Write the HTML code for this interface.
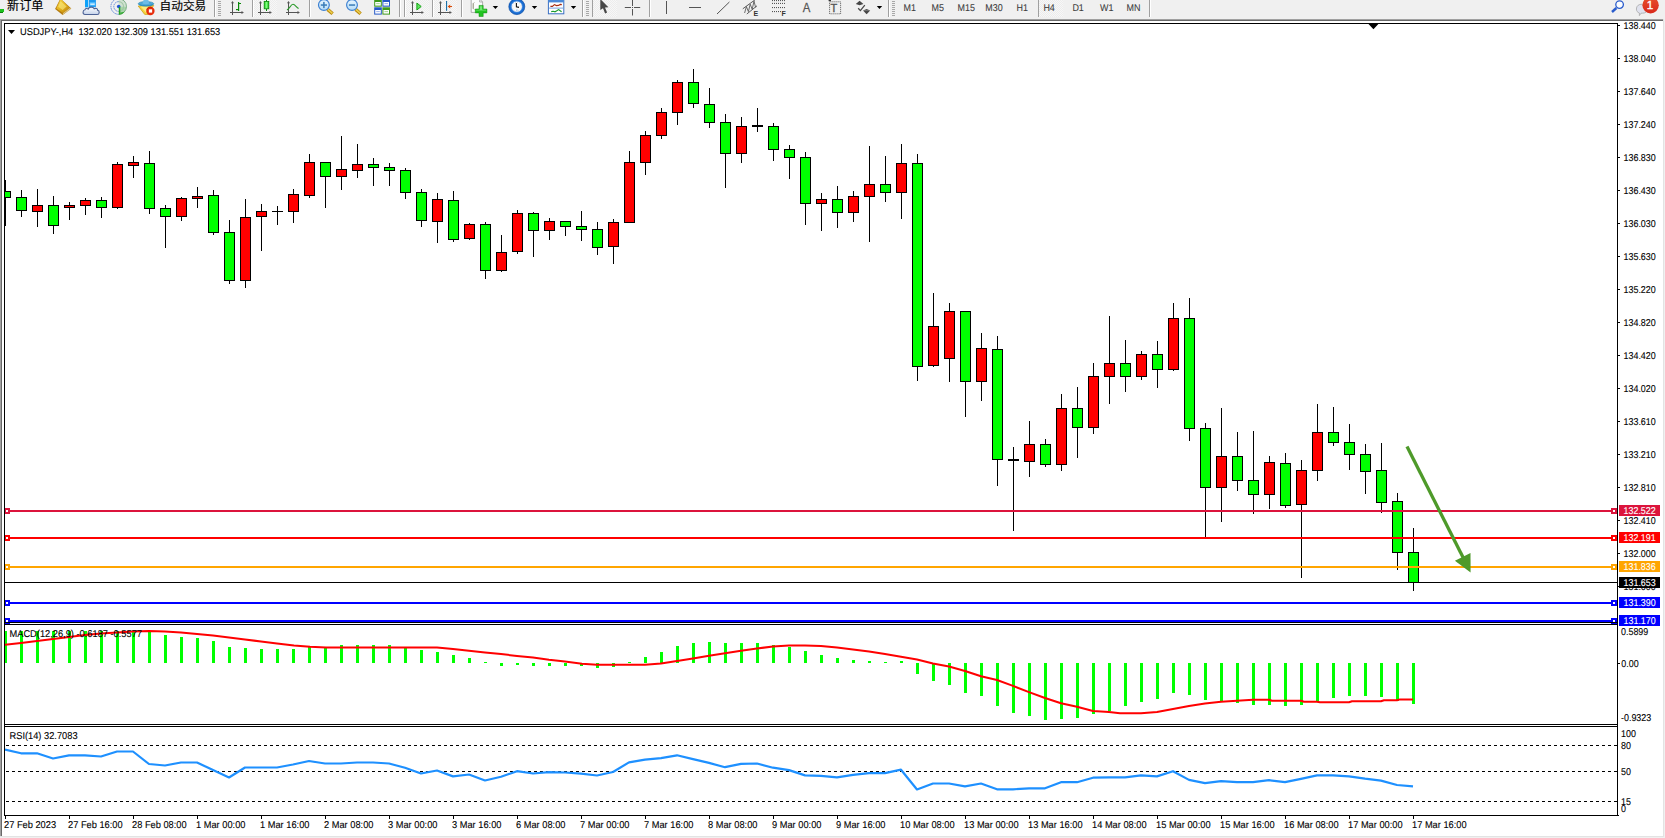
<!DOCTYPE html>
<html><head><meta charset="utf-8"><title>USDJPY-,H4</title>
<style>
html,body{margin:0;padding:0;}
body{width:1665px;height:838px;overflow:hidden;background:#f0f0f0;position:relative;font-family:'Liberation Sans','Noto Sans CJK SC',sans-serif;}
svg text{font-family:'Liberation Sans','Noto Sans CJK SC',sans-serif;}
</style></head><body>
<svg width="1665" height="838" viewBox="0 0 1665 838" shape-rendering="crispEdges" text-rendering="geometricPrecision" font-family="'Liberation Sans','Noto Sans CJK SC',sans-serif" style="position:absolute;left:0;top:0"><defs><clipPath id="mainclip"><rect x="5" y="24" width="1612" height="598"/></clipPath><clipPath id="macdclip"><rect x="5" y="625" width="1612" height="99"/></clipPath><clipPath id="rsiclip"><rect x="5" y="727" width="1612" height="88"/></clipPath></defs><rect x="0" y="18" width="1665" height="1" fill="#f6f6f6"/>
<rect x="0" y="19" width="1664" height="818" fill="#fff"/>
<rect x="0" y="19" width="1664" height="1" fill="#a0a0a0"/>
<rect x="0" y="19" width="1" height="818" fill="#a0a0a0"/>
<rect x="1" y="20" width="1663" height="1" fill="#696969"/>
<rect x="1" y="20" width="1" height="816" fill="#696969"/>
<rect x="1663" y="19" width="1" height="818" fill="#e3e3e3"/>
<rect x="0" y="836" width="1664" height="1" fill="#e3e3e3"/>
<g clip-path="url(#mainclip)"><rect x="5" y="180" width="1" height="46" fill="#000"/><rect x="0" y="191" width="11" height="7" fill="#000"/><rect x="1" y="192" width="9" height="5" fill="#00ff00"/><rect x="21" y="190" width="1" height="27" fill="#000"/><rect x="16" y="197" width="11" height="14" fill="#000"/><rect x="17" y="198" width="9" height="12" fill="#00ff00"/><rect x="37" y="189" width="1" height="38" fill="#000"/><rect x="32" y="205" width="11" height="7" fill="#000"/><rect x="33" y="206" width="9" height="5" fill="#ff0000"/><rect x="53" y="196" width="1" height="38" fill="#000"/><rect x="48" y="205" width="11" height="21" fill="#000"/><rect x="49" y="206" width="9" height="19" fill="#00ff00"/><rect x="69" y="202" width="1" height="18" fill="#000"/><rect x="64" y="205" width="11" height="3" fill="#000"/><rect x="65" y="206" width="9" height="1" fill="#ff0000"/><rect x="85" y="198" width="1" height="17" fill="#000"/><rect x="80" y="200" width="11" height="6" fill="#000"/><rect x="81" y="201" width="9" height="4" fill="#ff0000"/><rect x="101" y="197" width="1" height="21" fill="#000"/><rect x="96" y="200" width="11" height="8" fill="#000"/><rect x="97" y="201" width="9" height="6" fill="#00ff00"/><rect x="117" y="162" width="1" height="47" fill="#000"/><rect x="112" y="164" width="11" height="44" fill="#000"/><rect x="113" y="165" width="9" height="42" fill="#ff0000"/><rect x="133" y="156" width="1" height="22" fill="#000"/><rect x="128" y="162" width="11" height="4" fill="#000"/><rect x="129" y="163" width="9" height="2" fill="#ff0000"/><rect x="149" y="151" width="1" height="63" fill="#000"/><rect x="144" y="163" width="11" height="46" fill="#000"/><rect x="145" y="164" width="9" height="44" fill="#00ff00"/><rect x="165" y="205" width="1" height="43" fill="#000"/><rect x="160" y="208" width="11" height="9" fill="#000"/><rect x="161" y="209" width="9" height="7" fill="#00ff00"/><rect x="181" y="197" width="1" height="24" fill="#000"/><rect x="176" y="198" width="11" height="19" fill="#000"/><rect x="177" y="199" width="9" height="17" fill="#ff0000"/><rect x="197" y="187" width="1" height="21" fill="#000"/><rect x="192" y="196" width="11" height="3" fill="#000"/><rect x="193" y="197" width="9" height="1" fill="#ff0000"/><rect x="213" y="190" width="1" height="45" fill="#000"/><rect x="208" y="195" width="11" height="38" fill="#000"/><rect x="209" y="196" width="9" height="36" fill="#00ff00"/><rect x="229" y="220" width="1" height="64" fill="#000"/><rect x="224" y="232" width="11" height="49" fill="#000"/><rect x="225" y="233" width="9" height="47" fill="#00ff00"/><rect x="245" y="199" width="1" height="89" fill="#000"/><rect x="240" y="217" width="11" height="64" fill="#000"/><rect x="241" y="218" width="9" height="62" fill="#ff0000"/><rect x="261" y="204" width="1" height="47" fill="#000"/><rect x="256" y="211" width="11" height="6" fill="#000"/><rect x="257" y="212" width="9" height="4" fill="#ff0000"/><rect x="277" y="206" width="1" height="19" fill="#000"/><rect x="272" y="211" width="11" height="1" fill="#000"/><rect x="293" y="189" width="1" height="34" fill="#000"/><rect x="288" y="194" width="11" height="18" fill="#000"/><rect x="289" y="195" width="9" height="16" fill="#ff0000"/><rect x="309" y="154" width="1" height="44" fill="#000"/><rect x="304" y="162" width="11" height="34" fill="#000"/><rect x="305" y="163" width="9" height="32" fill="#ff0000"/><rect x="325" y="162" width="1" height="46" fill="#000"/><rect x="320" y="162" width="11" height="15" fill="#000"/><rect x="321" y="163" width="9" height="13" fill="#00ff00"/><rect x="341" y="136" width="1" height="54" fill="#000"/><rect x="336" y="169" width="11" height="8" fill="#000"/><rect x="337" y="170" width="9" height="6" fill="#ff0000"/><rect x="357" y="144" width="1" height="34" fill="#000"/><rect x="352" y="164" width="11" height="7" fill="#000"/><rect x="353" y="165" width="9" height="5" fill="#ff0000"/><rect x="373" y="158" width="1" height="28" fill="#000"/><rect x="368" y="164" width="11" height="4" fill="#000"/><rect x="369" y="165" width="9" height="2" fill="#00ff00"/><rect x="389" y="163" width="1" height="23" fill="#000"/><rect x="384" y="167" width="11" height="4" fill="#000"/><rect x="385" y="168" width="9" height="2" fill="#00ff00"/><rect x="405" y="168" width="1" height="31" fill="#000"/><rect x="400" y="170" width="11" height="23" fill="#000"/><rect x="401" y="171" width="9" height="21" fill="#00ff00"/><rect x="421" y="189" width="1" height="38" fill="#000"/><rect x="416" y="192" width="11" height="29" fill="#000"/><rect x="417" y="193" width="9" height="27" fill="#00ff00"/><rect x="437" y="193" width="1" height="50" fill="#000"/><rect x="432" y="199" width="11" height="23" fill="#000"/><rect x="433" y="200" width="9" height="21" fill="#ff0000"/><rect x="453" y="191" width="1" height="51" fill="#000"/><rect x="448" y="200" width="11" height="40" fill="#000"/><rect x="449" y="201" width="9" height="38" fill="#00ff00"/><rect x="469" y="223" width="1" height="17" fill="#000"/><rect x="464" y="224" width="11" height="15" fill="#000"/><rect x="465" y="225" width="9" height="13" fill="#ff0000"/><rect x="485" y="222" width="1" height="57" fill="#000"/><rect x="480" y="224" width="11" height="47" fill="#000"/><rect x="481" y="225" width="9" height="45" fill="#00ff00"/><rect x="501" y="235" width="1" height="37" fill="#000"/><rect x="496" y="252" width="11" height="19" fill="#000"/><rect x="497" y="253" width="9" height="17" fill="#ff0000"/><rect x="517" y="210" width="1" height="44" fill="#000"/><rect x="512" y="213" width="11" height="39" fill="#000"/><rect x="513" y="214" width="9" height="37" fill="#ff0000"/><rect x="533" y="212" width="1" height="45" fill="#000"/><rect x="528" y="213" width="11" height="18" fill="#000"/><rect x="529" y="214" width="9" height="16" fill="#00ff00"/><rect x="549" y="218" width="1" height="22" fill="#000"/><rect x="544" y="221" width="11" height="10" fill="#000"/><rect x="545" y="222" width="9" height="8" fill="#ff0000"/><rect x="565" y="221" width="1" height="15" fill="#000"/><rect x="560" y="221" width="11" height="6" fill="#000"/><rect x="561" y="222" width="9" height="4" fill="#00ff00"/><rect x="581" y="211" width="1" height="30" fill="#000"/><rect x="576" y="226" width="11" height="4" fill="#000"/><rect x="577" y="227" width="9" height="2" fill="#00ff00"/><rect x="597" y="222" width="1" height="33" fill="#000"/><rect x="592" y="229" width="11" height="19" fill="#000"/><rect x="593" y="230" width="9" height="17" fill="#00ff00"/><rect x="613" y="219" width="1" height="45" fill="#000"/><rect x="608" y="222" width="11" height="25" fill="#000"/><rect x="609" y="223" width="9" height="23" fill="#ff0000"/><rect x="629" y="151" width="1" height="71" fill="#000"/><rect x="624" y="162" width="11" height="61" fill="#000"/><rect x="625" y="163" width="9" height="59" fill="#ff0000"/><rect x="645" y="131" width="1" height="44" fill="#000"/><rect x="640" y="135" width="11" height="28" fill="#000"/><rect x="641" y="136" width="9" height="26" fill="#ff0000"/><rect x="661" y="108" width="1" height="31" fill="#000"/><rect x="656" y="112" width="11" height="24" fill="#000"/><rect x="657" y="113" width="9" height="22" fill="#ff0000"/><rect x="677" y="80" width="1" height="45" fill="#000"/><rect x="672" y="82" width="11" height="31" fill="#000"/><rect x="673" y="83" width="9" height="29" fill="#ff0000"/><rect x="693" y="69" width="1" height="39" fill="#000"/><rect x="688" y="82" width="11" height="22" fill="#000"/><rect x="689" y="83" width="9" height="20" fill="#00ff00"/><rect x="709" y="88" width="1" height="40" fill="#000"/><rect x="704" y="104" width="11" height="19" fill="#000"/><rect x="705" y="105" width="9" height="17" fill="#00ff00"/><rect x="725" y="114" width="1" height="74" fill="#000"/><rect x="720" y="122" width="11" height="32" fill="#000"/><rect x="721" y="123" width="9" height="30" fill="#00ff00"/><rect x="741" y="117" width="1" height="46" fill="#000"/><rect x="736" y="126" width="11" height="28" fill="#000"/><rect x="737" y="127" width="9" height="26" fill="#ff0000"/><rect x="757" y="108" width="1" height="24" fill="#000"/><rect x="752" y="125" width="11" height="2" fill="#000"/><rect x="773" y="123" width="1" height="38" fill="#000"/><rect x="768" y="126" width="11" height="24" fill="#000"/><rect x="769" y="127" width="9" height="22" fill="#00ff00"/><rect x="789" y="145" width="1" height="34" fill="#000"/><rect x="784" y="149" width="11" height="9" fill="#000"/><rect x="785" y="150" width="9" height="7" fill="#00ff00"/><rect x="805" y="152" width="1" height="73" fill="#000"/><rect x="800" y="157" width="11" height="47" fill="#000"/><rect x="801" y="158" width="9" height="45" fill="#00ff00"/><rect x="821" y="193" width="1" height="38" fill="#000"/><rect x="816" y="199" width="11" height="5" fill="#000"/><rect x="817" y="200" width="9" height="3" fill="#ff0000"/><rect x="837" y="186" width="1" height="42" fill="#000"/><rect x="832" y="199" width="11" height="14" fill="#000"/><rect x="833" y="200" width="9" height="12" fill="#00ff00"/><rect x="853" y="191" width="1" height="31" fill="#000"/><rect x="848" y="196" width="11" height="17" fill="#000"/><rect x="849" y="197" width="9" height="15" fill="#ff0000"/><rect x="869" y="146" width="1" height="96" fill="#000"/><rect x="864" y="184" width="11" height="13" fill="#000"/><rect x="865" y="185" width="9" height="11" fill="#ff0000"/><rect x="885" y="156" width="1" height="46" fill="#000"/><rect x="880" y="184" width="11" height="9" fill="#000"/><rect x="881" y="185" width="9" height="7" fill="#00ff00"/><rect x="901" y="144" width="1" height="75" fill="#000"/><rect x="896" y="163" width="11" height="30" fill="#000"/><rect x="897" y="164" width="9" height="28" fill="#ff0000"/><rect x="917" y="154" width="1" height="227" fill="#000"/><rect x="912" y="163" width="11" height="204" fill="#000"/><rect x="913" y="164" width="9" height="202" fill="#00ff00"/><rect x="933" y="293" width="1" height="74" fill="#000"/><rect x="928" y="326" width="11" height="40" fill="#000"/><rect x="929" y="327" width="9" height="38" fill="#ff0000"/><rect x="949" y="303" width="1" height="79" fill="#000"/><rect x="944" y="311" width="11" height="48" fill="#000"/><rect x="945" y="312" width="9" height="46" fill="#ff0000"/><rect x="965" y="311" width="1" height="106" fill="#000"/><rect x="960" y="311" width="11" height="71" fill="#000"/><rect x="961" y="312" width="9" height="69" fill="#00ff00"/><rect x="981" y="333" width="1" height="68" fill="#000"/><rect x="976" y="348" width="11" height="34" fill="#000"/><rect x="977" y="349" width="9" height="32" fill="#ff0000"/><rect x="997" y="336" width="1" height="150" fill="#000"/><rect x="992" y="349" width="11" height="111" fill="#000"/><rect x="993" y="350" width="9" height="109" fill="#00ff00"/><rect x="1013" y="447" width="1" height="84" fill="#000"/><rect x="1008" y="459" width="11" height="2" fill="#000"/><rect x="1029" y="421" width="1" height="56" fill="#000"/><rect x="1024" y="444" width="11" height="18" fill="#000"/><rect x="1025" y="445" width="9" height="16" fill="#ff0000"/><rect x="1045" y="439" width="1" height="28" fill="#000"/><rect x="1040" y="444" width="11" height="21" fill="#000"/><rect x="1041" y="445" width="9" height="19" fill="#00ff00"/><rect x="1061" y="394" width="1" height="77" fill="#000"/><rect x="1056" y="408" width="11" height="57" fill="#000"/><rect x="1057" y="409" width="9" height="55" fill="#ff0000"/><rect x="1077" y="387" width="1" height="71" fill="#000"/><rect x="1072" y="408" width="11" height="20" fill="#000"/><rect x="1073" y="409" width="9" height="18" fill="#00ff00"/><rect x="1093" y="363" width="1" height="71" fill="#000"/><rect x="1088" y="376" width="11" height="52" fill="#000"/><rect x="1089" y="377" width="9" height="50" fill="#ff0000"/><rect x="1109" y="316" width="1" height="88" fill="#000"/><rect x="1104" y="363" width="11" height="14" fill="#000"/><rect x="1105" y="364" width="9" height="12" fill="#ff0000"/><rect x="1125" y="340" width="1" height="52" fill="#000"/><rect x="1120" y="363" width="11" height="14" fill="#000"/><rect x="1121" y="364" width="9" height="12" fill="#00ff00"/><rect x="1141" y="351" width="1" height="29" fill="#000"/><rect x="1136" y="354" width="11" height="23" fill="#000"/><rect x="1137" y="355" width="9" height="21" fill="#ff0000"/><rect x="1157" y="341" width="1" height="47" fill="#000"/><rect x="1152" y="354" width="11" height="16" fill="#000"/><rect x="1153" y="355" width="9" height="14" fill="#00ff00"/><rect x="1173" y="303" width="1" height="68" fill="#000"/><rect x="1168" y="318" width="11" height="52" fill="#000"/><rect x="1169" y="319" width="9" height="50" fill="#ff0000"/><rect x="1189" y="298" width="1" height="143" fill="#000"/><rect x="1184" y="318" width="11" height="111" fill="#000"/><rect x="1185" y="319" width="9" height="109" fill="#00ff00"/><rect x="1205" y="423" width="1" height="114" fill="#000"/><rect x="1200" y="428" width="11" height="60" fill="#000"/><rect x="1201" y="429" width="9" height="58" fill="#00ff00"/><rect x="1221" y="408" width="1" height="114" fill="#000"/><rect x="1216" y="456" width="11" height="32" fill="#000"/><rect x="1217" y="457" width="9" height="30" fill="#ff0000"/><rect x="1237" y="432" width="1" height="59" fill="#000"/><rect x="1232" y="456" width="11" height="25" fill="#000"/><rect x="1233" y="457" width="9" height="23" fill="#00ff00"/><rect x="1253" y="431" width="1" height="83" fill="#000"/><rect x="1248" y="480" width="11" height="15" fill="#000"/><rect x="1249" y="481" width="9" height="13" fill="#00ff00"/><rect x="1269" y="456" width="1" height="53" fill="#000"/><rect x="1264" y="462" width="11" height="33" fill="#000"/><rect x="1265" y="463" width="9" height="31" fill="#ff0000"/><rect x="1285" y="453" width="1" height="55" fill="#000"/><rect x="1280" y="463" width="11" height="43" fill="#000"/><rect x="1281" y="464" width="9" height="41" fill="#00ff00"/><rect x="1301" y="460" width="1" height="118" fill="#000"/><rect x="1296" y="470" width="11" height="35" fill="#000"/><rect x="1297" y="471" width="9" height="33" fill="#ff0000"/><rect x="1317" y="404" width="1" height="77" fill="#000"/><rect x="1312" y="432" width="11" height="39" fill="#000"/><rect x="1313" y="433" width="9" height="37" fill="#ff0000"/><rect x="1333" y="407" width="1" height="39" fill="#000"/><rect x="1328" y="432" width="11" height="11" fill="#000"/><rect x="1329" y="433" width="9" height="9" fill="#00ff00"/><rect x="1349" y="424" width="1" height="46" fill="#000"/><rect x="1344" y="442" width="11" height="13" fill="#000"/><rect x="1345" y="443" width="9" height="11" fill="#00ff00"/><rect x="1365" y="444" width="1" height="50" fill="#000"/><rect x="1360" y="454" width="11" height="18" fill="#000"/><rect x="1361" y="455" width="9" height="16" fill="#00ff00"/><rect x="1381" y="443" width="1" height="70" fill="#000"/><rect x="1376" y="470" width="11" height="33" fill="#000"/><rect x="1377" y="471" width="9" height="31" fill="#00ff00"/><rect x="1397" y="493" width="1" height="77" fill="#000"/><rect x="1392" y="501" width="11" height="52" fill="#000"/><rect x="1393" y="502" width="9" height="50" fill="#00ff00"/><rect x="1413" y="528" width="1" height="63" fill="#000"/><rect x="1408" y="552" width="11" height="31" fill="#000"/><rect x="1409" y="553" width="9" height="29" fill="#00ff00"/></g>
<rect x="5" y="510" width="1612" height="2" fill="#dc143c"/>
<rect x="4" y="508" width="6" height="6" fill="#dc143c"/>
<rect x="6" y="510" width="2" height="2" fill="#fff"/>
<rect x="1611" y="508" width="6" height="6" fill="#dc143c"/>
<rect x="1613" y="510" width="2" height="2" fill="#fff"/>
<rect x="5" y="537" width="1612" height="2" fill="#ff0000"/>
<rect x="4" y="535" width="6" height="6" fill="#ff0000"/>
<rect x="6" y="537" width="2" height="2" fill="#fff"/>
<rect x="1611" y="535" width="6" height="6" fill="#ff0000"/>
<rect x="1613" y="537" width="2" height="2" fill="#fff"/>
<rect x="5" y="566" width="1612" height="2" fill="#ffa500"/>
<rect x="4" y="564" width="6" height="6" fill="#ffa500"/>
<rect x="6" y="566" width="2" height="2" fill="#fff"/>
<rect x="1611" y="564" width="6" height="6" fill="#ffa500"/>
<rect x="1613" y="566" width="2" height="2" fill="#fff"/>
<rect x="5" y="602" width="1612" height="2" fill="#0000ff"/>
<rect x="4" y="600" width="6" height="6" fill="#0000ff"/>
<rect x="6" y="602" width="2" height="2" fill="#fff"/>
<rect x="1611" y="600" width="6" height="6" fill="#0000ff"/>
<rect x="1613" y="602" width="2" height="2" fill="#fff"/>
<rect x="5" y="620" width="1612" height="2" fill="#0000ff"/>
<rect x="4" y="618" width="6" height="6" fill="#0000ff"/>
<rect x="6" y="620" width="2" height="2" fill="#fff"/>
<rect x="1611" y="618" width="6" height="6" fill="#0000ff"/>
<rect x="1613" y="620" width="2" height="2" fill="#fff"/>
<rect x="5" y="582" width="1612" height="1" fill="#000"/>
<g shape-rendering="geometricPrecision"><line x1="1407.0" y1="446.5" x2="1463.6" y2="558.6" stroke="#4e9a2a" stroke-width="3.3"/><polygon points="1470.6,572.4 1454.9,560.7 1470.5,552.9" fill="#4e9a2a"/></g>
<g clip-path="url(#macdclip)"><rect x="4" y="631" width="3" height="32" fill="#00ff00"/><rect x="20" y="631" width="3" height="32" fill="#00ff00"/><rect x="36" y="631" width="3" height="32" fill="#00ff00"/><rect x="52" y="631" width="3" height="32" fill="#00ff00"/><rect x="68" y="631" width="3" height="32" fill="#00ff00"/><rect x="84" y="631" width="3" height="32" fill="#00ff00"/><rect x="100" y="631" width="3" height="32" fill="#00ff00"/><rect x="116" y="631" width="3" height="32" fill="#00ff00"/><rect x="132" y="631" width="3" height="32" fill="#00ff00"/><rect x="148" y="632" width="3" height="31" fill="#00ff00"/><rect x="164" y="635" width="3" height="28" fill="#00ff00"/><rect x="180" y="637" width="3" height="26" fill="#00ff00"/><rect x="196" y="638" width="3" height="25" fill="#00ff00"/><rect x="212" y="641" width="3" height="22" fill="#00ff00"/><rect x="228" y="647" width="3" height="16" fill="#00ff00"/><rect x="244" y="648" width="3" height="15" fill="#00ff00"/><rect x="260" y="649" width="3" height="14" fill="#00ff00"/><rect x="276" y="649" width="3" height="14" fill="#00ff00"/><rect x="292" y="649" width="3" height="14" fill="#00ff00"/><rect x="308" y="647" width="3" height="16" fill="#00ff00"/><rect x="324" y="647" width="3" height="16" fill="#00ff00"/><rect x="340" y="645" width="3" height="18" fill="#00ff00"/><rect x="356" y="645" width="3" height="18" fill="#00ff00"/><rect x="372" y="645" width="3" height="18" fill="#00ff00"/><rect x="388" y="645" width="3" height="18" fill="#00ff00"/><rect x="404" y="647" width="3" height="16" fill="#00ff00"/><rect x="420" y="650" width="3" height="13" fill="#00ff00"/><rect x="436" y="652" width="3" height="11" fill="#00ff00"/><rect x="452" y="655" width="3" height="8" fill="#00ff00"/><rect x="468" y="658" width="3" height="5" fill="#00ff00"/><rect x="484" y="662" width="3" height="1" fill="#00ff00"/><rect x="500" y="663" width="3" height="3" fill="#00ff00"/><rect x="516" y="663" width="3" height="2" fill="#00ff00"/><rect x="532" y="663" width="3" height="3" fill="#00ff00"/><rect x="548" y="663" width="3" height="3" fill="#00ff00"/><rect x="564" y="663" width="3" height="3" fill="#00ff00"/><rect x="580" y="663" width="3" height="3" fill="#00ff00"/><rect x="596" y="663" width="3" height="5" fill="#00ff00"/><rect x="612" y="663" width="3" height="4" fill="#00ff00"/><rect x="628" y="662" width="3" height="1" fill="#00ff00"/><rect x="644" y="657" width="3" height="6" fill="#00ff00"/><rect x="660" y="652" width="3" height="11" fill="#00ff00"/><rect x="676" y="646" width="3" height="17" fill="#00ff00"/><rect x="692" y="643" width="3" height="20" fill="#00ff00"/><rect x="708" y="642" width="3" height="21" fill="#00ff00"/><rect x="724" y="643" width="3" height="20" fill="#00ff00"/><rect x="740" y="643" width="3" height="20" fill="#00ff00"/><rect x="756" y="643" width="3" height="20" fill="#00ff00"/><rect x="772" y="645" width="3" height="18" fill="#00ff00"/><rect x="788" y="647" width="3" height="16" fill="#00ff00"/><rect x="804" y="651" width="3" height="12" fill="#00ff00"/><rect x="820" y="655" width="3" height="8" fill="#00ff00"/><rect x="836" y="658" width="3" height="5" fill="#00ff00"/><rect x="852" y="660" width="3" height="3" fill="#00ff00"/><rect x="868" y="661" width="3" height="2" fill="#00ff00"/><rect x="884" y="662" width="3" height="1" fill="#00ff00"/><rect x="900" y="661" width="3" height="2" fill="#00ff00"/><rect x="916" y="663" width="3" height="11" fill="#00ff00"/><rect x="932" y="663" width="3" height="18" fill="#00ff00"/><rect x="948" y="663" width="3" height="22" fill="#00ff00"/><rect x="964" y="663" width="3" height="30" fill="#00ff00"/><rect x="980" y="663" width="3" height="33" fill="#00ff00"/><rect x="996" y="663" width="3" height="43" fill="#00ff00"/><rect x="1012" y="663" width="3" height="50" fill="#00ff00"/><rect x="1028" y="663" width="3" height="53" fill="#00ff00"/><rect x="1044" y="663" width="3" height="57" fill="#00ff00"/><rect x="1060" y="663" width="3" height="56" fill="#00ff00"/><rect x="1076" y="663" width="3" height="55" fill="#00ff00"/><rect x="1092" y="663" width="3" height="51" fill="#00ff00"/><rect x="1108" y="663" width="3" height="48" fill="#00ff00"/><rect x="1124" y="663" width="3" height="43" fill="#00ff00"/><rect x="1140" y="663" width="3" height="39" fill="#00ff00"/><rect x="1156" y="663" width="3" height="36" fill="#00ff00"/><rect x="1172" y="663" width="3" height="30" fill="#00ff00"/><rect x="1188" y="663" width="3" height="32" fill="#00ff00"/><rect x="1204" y="663" width="3" height="37" fill="#00ff00"/><rect x="1220" y="663" width="3" height="38" fill="#00ff00"/><rect x="1236" y="663" width="3" height="40" fill="#00ff00"/><rect x="1252" y="663" width="3" height="42" fill="#00ff00"/><rect x="1268" y="663" width="3" height="42" fill="#00ff00"/><rect x="1284" y="663" width="3" height="43" fill="#00ff00"/><rect x="1300" y="663" width="3" height="42" fill="#00ff00"/><rect x="1316" y="663" width="3" height="38" fill="#00ff00"/><rect x="1332" y="663" width="3" height="35" fill="#00ff00"/><rect x="1348" y="663" width="3" height="33" fill="#00ff00"/><rect x="1364" y="663" width="3" height="33" fill="#00ff00"/><rect x="1380" y="663" width="3" height="34" fill="#00ff00"/><rect x="1396" y="663" width="3" height="38" fill="#00ff00"/><rect x="1412" y="663" width="3" height="41" fill="#00ff00"/>
<polyline points="5,644.7 21,643 37,641 53,639 69,637 85,635 101,633.5 117,632.5 133,631.5 149,631 165,631.5 181,632.5 197,634 213,635.5 229,637.5 245,639.5 261,641.5 277,643.5 294,645.5 310,646.7 326,647.5 437,647.5 453,649.1 469,650.8 485,652.5 501,654.1 517,655.9 533,657.6 549,659.8 565,661.6 582,663.7 597,664.7 645,664.7 661,663.5 677,661 693,658.5 709,655.8 725,653.2 741,650.8 757,648.5 773,646.5 789,645.5 805,645.5 821,646 837,647.5 853,649.5 869,651.5 885,654 901,656.7 917,659.5 933,663.5 949,666.5 965,671 981,676.3 997,680 1013,685.9 1029,692.1 1045,698 1061,703.2 1077,706.7 1093,711 1109,712 1120,713.2 1141,713.2 1157,712.1 1173,709 1189,706.1 1205,703.6 1221,701.7 1237,700.7 1253,699.8 1269,699.8 1272,700.7 1301,700.7 1304,701.7 1317,701.7 1320,702.3 1349,702.3 1352,701.3 1381,701.3 1384,700.3 1397,700.3 1400,699.4 1413,699.4" fill="none" stroke="#ff0000" stroke-width="2" shape-rendering="geometricPrecision" stroke-linejoin="round"/></g>
<line x1="6" y1="745.5" x2="1617" y2="745.5" stroke="#000" stroke-width="1" stroke-dasharray="3 3"/>
<line x1="6" y1="771.5" x2="1617" y2="771.5" stroke="#000" stroke-width="1" stroke-dasharray="3 3"/>
<line x1="6" y1="801.5" x2="1617" y2="801.5" stroke="#000" stroke-width="1" stroke-dasharray="3 3"/>
<g clip-path="url(#rsiclip)"><polyline points="5,749.5 21,753.3 37,753.3 53,758.5 69,755.3 85,755.3 101,756.5 117,751.5 133,751.5 149,764 165,765.5 181,762.5 197,762.5 213,770 229,777.5 245,767.5 261,767.5 277,767.5 293,764.5 309,761 325,763.5 341,763.5 357,762.5 373,762.5 389,763.5 405,767.7 421,773.5 437,770.5 453,776.4 469,774.5 485,780.5 501,776.8 517,771.2 533,773.5 549,772.2 565,772.5 581,773.7 597,775.5 613,772 629,762.4 645,759.7 661,758.1 677,755.3 693,759.1 709,762.9 725,767.2 741,763.9 757,763.5 773,767.7 789,770.1 805,775.4 821,775.8 837,777.4 853,774.9 869,773.1 885,773.1 901,769.7 917,789.5 933,783.5 949,783.5 965,786.4 981,783.5 997,789.3 1013,789.3 1029,788.3 1045,788.3 1061,782.2 1077,782.2 1093,777.7 1109,777.4 1125,777.4 1141,775.4 1157,776.4 1173,771.2 1189,779.9 1205,783.1 1221,781.2 1237,782.2 1253,782.2 1269,780.2 1285,782.2 1301,778.9 1317,775.4 1333,775.4 1349,776.4 1365,778.7 1381,780.6 1397,785 1413,786.4" fill="none" stroke="#1e90ff" stroke-width="2.2" shape-rendering="geometricPrecision" stroke-linejoin="round"/></g>
<rect x="4" y="23" width="1614" height="1" fill="#000"/>
<rect x="4" y="622" width="1614" height="1" fill="#000"/>
<rect x="4" y="624" width="1614" height="1" fill="#000"/>
<rect x="4" y="724" width="1614" height="1" fill="#000"/>
<rect x="4" y="726" width="1614" height="1" fill="#000"/>
<rect x="4" y="815" width="1615" height="1" fill="#000"/>
<rect x="4" y="23" width="1" height="793" fill="#000"/>
<rect x="1617" y="23" width="1" height="793" fill="#000"/>
<rect x="1618" y="25" width="2" height="1" fill="#000"/>
<text transform="translate(1623.5,28.5) scale(0.903,1)" fill="#000" stroke="#000" stroke-width="0.1" font-size="9.9" >138.440</text>
<rect x="1618" y="58" width="2" height="1" fill="#000"/>
<text transform="translate(1623.5,61.5) scale(0.903,1)" fill="#000" stroke="#000" stroke-width="0.1" font-size="9.9" >138.040</text>
<rect x="1618" y="91" width="2" height="1" fill="#000"/>
<text transform="translate(1623.5,94.5) scale(0.903,1)" fill="#000" stroke="#000" stroke-width="0.1" font-size="9.9" >137.640</text>
<rect x="1618" y="124" width="2" height="1" fill="#000"/>
<text transform="translate(1623.5,127.5) scale(0.903,1)" fill="#000" stroke="#000" stroke-width="0.1" font-size="9.9" >137.240</text>
<rect x="1618" y="157" width="2" height="1" fill="#000"/>
<text transform="translate(1623.5,160.5) scale(0.903,1)" fill="#000" stroke="#000" stroke-width="0.1" font-size="9.9" >136.830</text>
<rect x="1618" y="190" width="2" height="1" fill="#000"/>
<text transform="translate(1623.5,193.5) scale(0.903,1)" fill="#000" stroke="#000" stroke-width="0.1" font-size="9.9" >136.430</text>
<rect x="1618" y="223" width="2" height="1" fill="#000"/>
<text transform="translate(1623.5,226.5) scale(0.903,1)" fill="#000" stroke="#000" stroke-width="0.1" font-size="9.9" >136.030</text>
<rect x="1618" y="256" width="2" height="1" fill="#000"/>
<text transform="translate(1623.5,259.5) scale(0.903,1)" fill="#000" stroke="#000" stroke-width="0.1" font-size="9.9" >135.630</text>
<rect x="1618" y="289" width="2" height="1" fill="#000"/>
<text transform="translate(1623.5,292.5) scale(0.903,1)" fill="#000" stroke="#000" stroke-width="0.1" font-size="9.9" >135.220</text>
<rect x="1618" y="322" width="2" height="1" fill="#000"/>
<text transform="translate(1623.5,325.5) scale(0.903,1)" fill="#000" stroke="#000" stroke-width="0.1" font-size="9.9" >134.820</text>
<rect x="1618" y="355" width="2" height="1" fill="#000"/>
<text transform="translate(1623.5,358.5) scale(0.903,1)" fill="#000" stroke="#000" stroke-width="0.1" font-size="9.9" >134.420</text>
<rect x="1618" y="388" width="2" height="1" fill="#000"/>
<text transform="translate(1623.5,391.5) scale(0.903,1)" fill="#000" stroke="#000" stroke-width="0.1" font-size="9.9" >134.020</text>
<rect x="1618" y="421" width="2" height="1" fill="#000"/>
<text transform="translate(1623.5,424.5) scale(0.903,1)" fill="#000" stroke="#000" stroke-width="0.1" font-size="9.9" >133.610</text>
<rect x="1618" y="454" width="2" height="1" fill="#000"/>
<text transform="translate(1623.5,457.5) scale(0.903,1)" fill="#000" stroke="#000" stroke-width="0.1" font-size="9.9" >133.210</text>
<rect x="1618" y="487" width="2" height="1" fill="#000"/>
<text transform="translate(1623.5,490.5) scale(0.903,1)" fill="#000" stroke="#000" stroke-width="0.1" font-size="9.9" >132.810</text>
<rect x="1618" y="520" width="2" height="1" fill="#000"/>
<text transform="translate(1623.5,523.5) scale(0.903,1)" fill="#000" stroke="#000" stroke-width="0.1" font-size="9.9" >132.410</text>
<rect x="1618" y="553" width="2" height="1" fill="#000"/>
<text transform="translate(1623.5,556.5) scale(0.903,1)" fill="#000" stroke="#000" stroke-width="0.1" font-size="9.9" >132.000</text>
<rect x="1618" y="586" width="2" height="1" fill="#000"/>
<text transform="translate(1623.5,589.5) scale(0.903,1)" fill="#000" stroke="#000" stroke-width="0.1" font-size="9.9" >131.600</text>
<rect x="1619" y="505" width="41" height="11" fill="#dc143c"/>
<text transform="translate(1623.5,514) scale(0.903,1)" fill="#fff" stroke="#fff" stroke-width="0.1" font-size="9.9" >132.522</text>
<rect x="1619" y="532" width="41" height="11" fill="#ff0000"/>
<text transform="translate(1623.5,541) scale(0.903,1)" fill="#fff" stroke="#fff" stroke-width="0.1" font-size="9.9" >132.191</text>
<rect x="1619" y="561" width="41" height="11" fill="#ffa500"/>
<text transform="translate(1623.5,570) scale(0.903,1)" fill="#fff" stroke="#fff" stroke-width="0.1" font-size="9.9" >131.836</text>
<rect x="1619" y="597" width="41" height="11" fill="#0000ff"/>
<text transform="translate(1623.5,606) scale(0.903,1)" fill="#fff" stroke="#fff" stroke-width="0.1" font-size="9.9" >131.390</text>
<rect x="1619" y="615" width="41" height="11" fill="#0000ff"/>
<text transform="translate(1623.5,624) scale(0.903,1)" fill="#fff" stroke="#fff" stroke-width="0.1" font-size="9.9" >131.170</text>
<rect x="1619" y="577" width="41" height="11" fill="#000"/>
<text transform="translate(1623.5,586) scale(0.903,1)" fill="#fff" stroke="#fff" stroke-width="0.1" font-size="9.9" >131.653</text>
<text transform="translate(1621,635.3) scale(0.903,1)" fill="#000" stroke="#000" stroke-width="0.1" font-size="9.9" >0.5899</text>
<rect x="1618" y="663" width="2" height="1" fill="#000"/>
<text transform="translate(1621.3,666.8) scale(0.903,1)" fill="#000" stroke="#000" stroke-width="0.1" font-size="9.9" >0.00</text>
<text transform="translate(1621,720.8) scale(0.903,1)" fill="#000" stroke="#000" stroke-width="0.1" font-size="9.9" >-0.9323</text>
<text transform="translate(1621,737) scale(0.903,1)" fill="#000" stroke="#000" stroke-width="0.1" font-size="9.9" >100</text>
<text transform="translate(1621,749) scale(0.903,1)" fill="#000" stroke="#000" stroke-width="0.1" font-size="9.9" >80</text>
<text transform="translate(1621,775) scale(0.903,1)" fill="#000" stroke="#000" stroke-width="0.1" font-size="9.9" >50</text>
<text transform="translate(1621,805) scale(0.903,1)" fill="#000" stroke="#000" stroke-width="0.1" font-size="9.9" >15</text>
<text transform="translate(1621,812.2) scale(0.903,1)" fill="#000" stroke="#000" stroke-width="0.1" font-size="9.9" >0</text>
<rect x="5" y="816" width="1" height="3" fill="#000"/>
<text transform="translate(4,828) scale(0.939,1)" fill="#000" stroke="#000" stroke-width="0.1" font-size="9.9" >27 Feb 2023</text>
<rect x="69" y="816" width="1" height="3" fill="#000"/>
<text transform="translate(68,828) scale(0.939,1)" fill="#000" stroke="#000" stroke-width="0.1" font-size="9.9" >27 Feb 16:00</text>
<rect x="133" y="816" width="1" height="3" fill="#000"/>
<text transform="translate(132,828) scale(0.939,1)" fill="#000" stroke="#000" stroke-width="0.1" font-size="9.9" >28 Feb 08:00</text>
<rect x="197" y="816" width="1" height="3" fill="#000"/>
<text transform="translate(196,828) scale(0.939,1)" fill="#000" stroke="#000" stroke-width="0.1" font-size="9.9" >1 Mar 00:00</text>
<rect x="261" y="816" width="1" height="3" fill="#000"/>
<text transform="translate(260,828) scale(0.939,1)" fill="#000" stroke="#000" stroke-width="0.1" font-size="9.9" >1 Mar 16:00</text>
<rect x="325" y="816" width="1" height="3" fill="#000"/>
<text transform="translate(324,828) scale(0.939,1)" fill="#000" stroke="#000" stroke-width="0.1" font-size="9.9" >2 Mar 08:00</text>
<rect x="389" y="816" width="1" height="3" fill="#000"/>
<text transform="translate(388,828) scale(0.939,1)" fill="#000" stroke="#000" stroke-width="0.1" font-size="9.9" >3 Mar 00:00</text>
<rect x="453" y="816" width="1" height="3" fill="#000"/>
<text transform="translate(452,828) scale(0.939,1)" fill="#000" stroke="#000" stroke-width="0.1" font-size="9.9" >3 Mar 16:00</text>
<rect x="517" y="816" width="1" height="3" fill="#000"/>
<text transform="translate(516,828) scale(0.939,1)" fill="#000" stroke="#000" stroke-width="0.1" font-size="9.9" >6 Mar 08:00</text>
<rect x="581" y="816" width="1" height="3" fill="#000"/>
<text transform="translate(580,828) scale(0.939,1)" fill="#000" stroke="#000" stroke-width="0.1" font-size="9.9" >7 Mar 00:00</text>
<rect x="645" y="816" width="1" height="3" fill="#000"/>
<text transform="translate(644,828) scale(0.939,1)" fill="#000" stroke="#000" stroke-width="0.1" font-size="9.9" >7 Mar 16:00</text>
<rect x="709" y="816" width="1" height="3" fill="#000"/>
<text transform="translate(708,828) scale(0.939,1)" fill="#000" stroke="#000" stroke-width="0.1" font-size="9.9" >8 Mar 08:00</text>
<rect x="773" y="816" width="1" height="3" fill="#000"/>
<text transform="translate(772,828) scale(0.939,1)" fill="#000" stroke="#000" stroke-width="0.1" font-size="9.9" >9 Mar 00:00</text>
<rect x="837" y="816" width="1" height="3" fill="#000"/>
<text transform="translate(836,828) scale(0.939,1)" fill="#000" stroke="#000" stroke-width="0.1" font-size="9.9" >9 Mar 16:00</text>
<rect x="901" y="816" width="1" height="3" fill="#000"/>
<text transform="translate(900,828) scale(0.939,1)" fill="#000" stroke="#000" stroke-width="0.1" font-size="9.9" >10 Mar 08:00</text>
<rect x="965" y="816" width="1" height="3" fill="#000"/>
<text transform="translate(964,828) scale(0.939,1)" fill="#000" stroke="#000" stroke-width="0.1" font-size="9.9" >13 Mar 00:00</text>
<rect x="1029" y="816" width="1" height="3" fill="#000"/>
<text transform="translate(1028,828) scale(0.939,1)" fill="#000" stroke="#000" stroke-width="0.1" font-size="9.9" >13 Mar 16:00</text>
<rect x="1093" y="816" width="1" height="3" fill="#000"/>
<text transform="translate(1092,828) scale(0.939,1)" fill="#000" stroke="#000" stroke-width="0.1" font-size="9.9" >14 Mar 08:00</text>
<rect x="1157" y="816" width="1" height="3" fill="#000"/>
<text transform="translate(1156,828) scale(0.939,1)" fill="#000" stroke="#000" stroke-width="0.1" font-size="9.9" >15 Mar 00:00</text>
<rect x="1221" y="816" width="1" height="3" fill="#000"/>
<text transform="translate(1220,828) scale(0.939,1)" fill="#000" stroke="#000" stroke-width="0.1" font-size="9.9" >15 Mar 16:00</text>
<rect x="1285" y="816" width="1" height="3" fill="#000"/>
<text transform="translate(1284,828) scale(0.939,1)" fill="#000" stroke="#000" stroke-width="0.1" font-size="9.9" >16 Mar 08:00</text>
<rect x="1349" y="816" width="1" height="3" fill="#000"/>
<text transform="translate(1348,828) scale(0.939,1)" fill="#000" stroke="#000" stroke-width="0.1" font-size="9.9" >17 Mar 00:00</text>
<rect x="1413" y="816" width="1" height="3" fill="#000"/>
<text transform="translate(1412,828) scale(0.939,1)" fill="#000" stroke="#000" stroke-width="0.1" font-size="9.9" >17 Mar 16:00</text>
<polygon points="8,30 15,30 11.5,34" fill="#000" shape-rendering="geometricPrecision"/>
<text transform="translate(20,35) scale(0.939,1)" fill="#000" stroke="#000" stroke-width="0.1" font-size="9.9" xml:space="preserve">USDJPY-,H4&#160;&#160;132.020 132.309 131.551 131.653</text>
<text transform="translate(9.5,637) scale(0.939,1)" fill="#000" stroke="#000" stroke-width="0.1" font-size="9.9" >MACD(12,26,9) -0.6187 -0.5577</text>
<text transform="translate(9.5,738.5) scale(0.939,1)" fill="#000" stroke="#000" stroke-width="0.1" font-size="9.9" >RSI(14) 32.7083</text>
<polygon points="1368.5,24 1378.4,24 1373.45,29.3" fill="#000" shape-rendering="geometricPrecision"/></svg>
<svg width="1665" height="19" viewBox="0 0 1665 19" style="position:absolute;left:0;top:0" font-family="'Liberation Sans','Noto Sans CJK SC',sans-serif">
<defs>
<linearGradient id="gGold" x1="0" y1="0" x2="1" y2="1"><stop offset="0" stop-color="#f7d84a"/><stop offset="0.5" stop-color="#e3b11c"/><stop offset="1" stop-color="#b47a10"/></linearGradient>
<linearGradient id="gBlue" x1="0" y1="0" x2="0" y2="1"><stop offset="0" stop-color="#3aa0f0"/><stop offset="1" stop-color="#1060d0"/></linearGradient>
<linearGradient id="gCloud" x1="0" y1="0" x2="0" y2="1"><stop offset="0" stop-color="#ffffff"/><stop offset="1" stop-color="#c4d2ea"/></linearGradient>
<linearGradient id="gGreen" x1="0" y1="0" x2="1" y2="0"><stop offset="0" stop-color="#20d020"/><stop offset="0.5" stop-color="#7dff7d"/><stop offset="1" stop-color="#18c018"/></linearGradient>
<linearGradient id="gLens" x1="0" y1="0" x2="0" y2="1"><stop offset="0" stop-color="#e8f6ff"/><stop offset="1" stop-color="#b4dcf8"/></linearGradient>
<linearGradient id="gRed" x1="0" y1="0" x2="0" y2="1"><stop offset="0" stop-color="#e8502c"/><stop offset="1" stop-color="#d8281a"/></linearGradient>
<pattern id="chk" width="2" height="2" patternUnits="userSpaceOnUse"><rect width="2" height="2" fill="#f7f7f7"/><rect width="1" height="1" fill="#ececec"/><rect x="1" y="1" width="1" height="1" fill="#ececec"/></pattern>
<g id="sep"><rect x="0" y="0" width="1" height="17" fill="#a0a0a0"/><rect x="1" y="0" width="1" height="17" fill="#ffffff"/></g>
<g id="grip" fill="#a8a8a8"><rect x="0" y="1" width="3" height="1"/><rect x="0" y="3" width="3" height="1"/><rect x="0" y="5" width="3" height="1"/><rect x="0" y="7" width="3" height="1"/><rect x="0" y="9" width="3" height="1"/><rect x="0" y="11" width="3" height="1"/><rect x="0" y="13" width="3" height="1"/><rect x="0" y="15" width="3" height="1"/></g>
<g id="axes" fill="#555"><rect x="2" y="2" width="1" height="13"/><rect x="0" y="12" width="13" height="1"/><polygon points="2.5,0.9 1,3.2 4,3.2"/><polygon points="13.9,12.5 11.5,11 11.5,14"/></g>
<polygon id="dd" points="0,0 5.4,0 2.7,3" fill="#000"/>
</defs>
<rect x="0" y="0" width="1665" height="19" fill="#f0f0f0"/>

<!-- new order fragment + label -->
<rect x="0" y="9" width="4" height="3" fill="#1fc01f"/><rect x="0" y="12" width="3" height="1" fill="#0a800a"/>
<text x="7" y="10.2" font-size="12.2" fill="#000" stroke="#000" stroke-width="0.15">新订单</text>

<!-- gold book -->
<polygon points="59.9,-0.5 55.1,9.1 62.6,15.1 71.3,8.6 61.4,-0.5" fill="#b47c10"/>
<polygon points="60.2,-0.5 56.3,8.5 63,13.1 69.9,7.9 61.4,-0.5" fill="url(#gGold)"/>
<polygon points="63,13.2 70,8 71.1,8.7 62.8,14.8" fill="#ead9a4"/>
<polygon points="63,13.9 70.6,8.3 70.9,8.6 62.9,14.4" fill="#b07a18" opacity="0.7"/>
<polygon points="60.6,1 58.2,6.8 62.6,10 66.6,6.4" fill="#fcec86" opacity="0.6"/>

<!-- terminal + cloud -->
<rect x="85.1" y="-1" width="10.8" height="8.2" fill="#1e9af0"/>
<rect x="85.1" y="-1" width="3.2" height="8.2" fill="#0ea2fa"/>
<rect x="88.2" y="-1" width="0.7" height="8.2" fill="#e4f4ff"/>
<rect x="89.6" y="2.1" width="5.7" height="3.6" fill="#4ebcff"/>
<rect x="90.3" y="3.6" width="4.4" height="1.1" fill="#ffffff"/>
<path d="M85 14.5 C82.4 14.5 82.4 10.2 85 9.8 C85.2 8.4 87.2 8 88.2 9 C88.8 6.6 93 6.4 94.2 8.8 C95.6 7.8 98 8.6 97.6 10.2 C99.8 10.4 99.8 14.5 97.2 14.5 Z" fill="url(#gCloud)" stroke="#4c6296" stroke-width="1.1"/>

<!-- signals -->
<path d="M118.7 6.5 L118.7 14.3 A7.8 7.8 0 0 0 126.5 6.5 Z" fill="#3aa83a" opacity="0.38"/>
<path d="M118.7 6.5 L126.5 6.5 A7.8 7.8 0 0 0 118.7 -1.3 Z" fill="#8cc08c" opacity="0.3"/>
<g fill="none">
<path d="M118.7 -1.3 A7.8 7.8 0 0 0 118.7 14.3" stroke="#4a78d4" stroke-width="1" stroke-dasharray="1.6 0.7" opacity="0.85"/>
<path d="M118.7 1.6 A4.9 4.9 0 0 0 118.7 11.4" stroke="#4a78d4" stroke-width="1" stroke-dasharray="1.6 0.7" opacity="0.85"/>
<path d="M118.7 -1.3 A7.8 7.8 0 0 1 118.7 14.3" stroke="#5a9a6a" stroke-width="1" opacity="0.7"/>
<path d="M118.7 1.6 A4.9 4.9 0 0 1 118.7 11.4" stroke="#9ac4a0" stroke-width="1.1" opacity="0.8"/>
</g>
<circle cx="118.7" cy="6.5" r="1.8" fill="#2458d0"/>
<rect x="118.9" y="6.9" width="1.4" height="7.8" fill="#22a022"/>
<path d="M120.3 14.7 L120.3 12.6 L124.6 11.8 C123.4 13.4 122 14.3 120.3 14.7 Z" fill="#2aa82a" opacity="0.85"/>

<!-- auto trading: hat, cone, stop -->
<polygon points="138.2,6 153.7,5.4 148.2,14.4 144.7,14.4" fill="#f4d43c" stroke="#c89a10" stroke-width="0.7"/>
<polygon points="140.6,6.6 148,6.2 146.4,13" fill="#fdf08e" opacity="0.85"/>
<ellipse cx="146" cy="3.8" rx="7.8" ry="2.3" fill="#4ca8d8" stroke="#2a88b4" stroke-width="0.6"/>
<path d="M142.4 3.4 C143 1.4 143.6 0 144 -1 L148 -1 C148.4 0 148.8 1.4 149.3 3.4 C147.4 4.4 144.4 4.4 142.4 3.4 Z" fill="#6cbce8"/>
<path d="M139.4 4.6 C142.6 6.2 149.4 6.2 152.6 4.6" fill="none" stroke="#2f8cbc" stroke-width="0.9"/>
<circle cx="150.4" cy="11" r="4.2" fill="#e62c0c"/>
<path d="M146.6 9.6 A4 4 0 0 1 152 7.4" fill="none" stroke="#b42008" stroke-width="0.7"/>
<rect x="148.85" y="9.3" width="3.3" height="3.3" fill="#ffffff"/>
<text x="159.5" y="10.2" font-size="11.7" fill="#000" stroke="#000" stroke-width="0.15">自动交易</text>

<use href="#sep" x="214" y="0"/>
<use href="#grip" x="218" y="0"/>

<!-- bar chart -->
<use href="#axes" x="230" y="0"/>
<g fill="#0a8a0a"><rect x="238" y="2" width="1.2" height="9"/><rect x="238" y="3" width="3" height="1"/><rect x="236" y="9" width="3" height="1.2"/></g>
<use href="#sep" x="252" y="0"/>
<!-- candle chart (active) -->
<rect x="254" y="0" width="23" height="17" fill="url(#chk)"/>
<use href="#axes" x="258" y="0"/>
<rect x="266" y="-1" width="1" height="12" fill="#0a8a0a"/>
<rect x="264.2" y="1.4" width="4.6" height="7.4" fill="url(#gGreen)" stroke="#0a8a0a" stroke-width="0.8"/>
<!-- line chart -->
<use href="#axes" x="286" y="0"/>
<path d="M287 10 C289.6 8.6 291 4.2 293 4.3 C295 4.4 296.4 7.4 298.6 8.4" fill="none" stroke="#2a9a2a" stroke-width="1.1"/>
<use href="#sep" x="309" y="0"/>

<!-- zoom in -->
<line x1="327.6" y1="9.4" x2="332.6" y2="13.8" stroke="#b8860b" stroke-width="3.4" stroke-linecap="butt"/>
<line x1="327.8" y1="9.4" x2="332.4" y2="13.4" stroke="#ecd050" stroke-width="1.6"/>
<circle cx="323.9" cy="5" r="5.4" fill="url(#gLens)" stroke="#3f82d2" stroke-width="1.2"/>
<rect x="320.8" y="4.3" width="6.2" height="1.5" fill="#3a7cb8"/><rect x="323.15" y="1.9" width="1.5" height="6.2" fill="#3a7cb8"/>
<!-- zoom out -->
<line x1="355.6" y1="9.4" x2="360.6" y2="13.8" stroke="#b8860b" stroke-width="3.4"/>
<line x1="355.8" y1="9.4" x2="360.4" y2="13.4" stroke="#ecd050" stroke-width="1.6"/>
<circle cx="352" cy="5" r="5.4" fill="url(#gLens)" stroke="#3f82d2" stroke-width="1.2"/>
<rect x="348.9" y="4.3" width="6.2" height="1.5" fill="#3a7cb8"/>
<!-- tile windows -->
<g>
<rect x="374.2" y="-1" width="7.6" height="7.7" fill="#3f9a1c"/><rect x="382.4" y="-1" width="7.6" height="7.7" fill="#2458c8"/>
<rect x="374.2" y="7.3" width="7.6" height="7.3" fill="#2458c8"/><rect x="382.4" y="7.3" width="7.6" height="7.3" fill="#3f9a1c"/>
<rect x="375.2" y="2" width="5.6" height="3.6" fill="#fff"/><rect x="383.4" y="2" width="5.6" height="3.6" fill="#fff"/>
<rect x="375.2" y="10" width="5.6" height="3.6" fill="#fff"/><rect x="383.4" y="10" width="5.6" height="3.6" fill="#fff"/>
<rect x="376.2" y="3.2" width="3.6" height="0.9" fill="#9ad08a"/><rect x="384.4" y="3.2" width="3.6" height="0.9" fill="#90a8e8"/>
<rect x="376.2" y="11.2" width="3.6" height="0.9" fill="#90a8e8"/><rect x="384.4" y="11.2" width="3.6" height="0.9" fill="#9ad08a"/>
</g>
<use href="#sep" x="399" y="0"/>
<use href="#sep" x="404" y="0"/>

<!-- autoscroll (active) -->
<rect x="406" y="0" width="23" height="17" fill="url(#chk)"/>
<use href="#axes" x="410" y="0"/>
<polygon points="416.9,3 416.9,10 421.2,6.5" fill="#5fe85f" stroke="#14a014" stroke-width="1"/>
<use href="#sep" x="432" y="0"/>
<!-- chart shift (active) -->
<rect x="434" y="0" width="23" height="17" fill="url(#chk)"/>
<use href="#axes" x="438" y="0"/>
<rect x="446" y="1" width="1.1" height="9.8" fill="#1a70a8"/>
<path d="M447.6 6.5 L450.2 4.6 L450.2 6 L452 6 L452 7 L450.2 7 L450.2 8.4 Z" fill="#d84a08"/>
<use href="#sep" x="461" y="0"/>

<!-- indicators: doc + green plus -->
<path d="M471.2 -1 L479.6 -1 L482.6 2 L482.6 12.4 L471.2 12.4 Z" fill="#fbfbfb" stroke="#9a9a9a" stroke-width="0.8"/>
<path d="M479.6 -1 L479.6 2 L482.6 2" fill="none" stroke="#9a9a9a" stroke-width="0.7"/>
<path d="M474.2 2.6 L473.2 3.6 L473.2 8.4 L474.2 9.4" fill="none" stroke="#7a7a60" stroke-width="0.9"/>
<path d="M479 5.4 L483.2 5.4 L483.2 9 L486.9 9 L486.9 12.9 L483.2 12.9 L483.2 16.5 L479 16.5 L479 12.9 L475.3 12.9 L475.3 9 L479 9 Z" fill="#22c422" stroke="#0c8a0c" stroke-width="0.5"/>
<path d="M479.8 6.2 L482.2 6.2 L482.2 9.8 L486 9.8 L486 10.6 L476.2 10.6 L476.2 9.8 L479.8 9.8 Z" fill="#8af08a" opacity="0.8"/>
<use href="#dd" x="492.7" y="6"/>

<!-- periodicity: clock -->
<circle cx="516.8" cy="6.6" r="6.7" fill="#fbfbfb" stroke="#1a6cd0" stroke-width="2.7"/><circle cx="516.8" cy="6.6" r="5.6" fill="none" stroke="#5aa0f0" stroke-width="0.6"/><circle cx="516.8" cy="6.6" r="4.4" fill="none" stroke="#b0b0b0" stroke-width="0.7" stroke-dasharray="0.6 1.7"/>
<circle cx="516.8" cy="6.6" r="8" fill="none" stroke="#0c4aa0" stroke-width="0.6"/>
<path d="M516.4 3 L516.4 6.8 L519 7.4" fill="none" stroke="#111" stroke-width="1.1"/>
<rect x="516.2" y="9.6" width="1.4" height="0.9" fill="#6aaaf0"/>
<use href="#dd" x="531.8" y="6"/>
<!-- templates -->
<rect x="548.4" y="-1" width="15.4" height="14.8" fill="#ffffff" stroke="#3a70c4" stroke-width="1"/>
<rect x="548.4" y="-1" width="15.4" height="3.4" fill="#4a88d8"/>
<rect x="549" y="7.6" width="14.4" height="1" fill="#7aa4e0"/>
<path d="M550.4 6.4 L552.4 6.4 L554.4 4.6 L556.4 5.6 L558.4 5.4 L560.4 4.4 L561.8 4.6" fill="none" stroke="#a82a10" stroke-width="1.1"/>
<path d="M551.2 11.6 L553.2 11.2 L555 11.8 L556.8 10.8 L558.6 9.6 L560.2 10.8 L561.6 11.8" fill="none" stroke="#1a9a2a" stroke-width="1.1"/>
<use href="#dd" x="570.8" y="6"/>
<use href="#sep" x="582" y="0"/>
<use href="#grip" x="586" y="0"/>
<rect x="592" y="0" width="1" height="17" fill="#a0a0a0"/>

<!-- cursor (active) -->
<rect x="593" y="0" width="24" height="17" fill="url(#chk)"/>
<polygon points="600.3,-1 600.3,10 603,8.2 605.1,13.4 607.1,12.6 605,7.6 608.4,7.3" fill="#474747"/>
<!-- crosshair -->
<g fill="#555"><rect x="632" y="0" width="1" height="6"/><rect x="632" y="9" width="1" height="6.5"/><rect x="624.8" y="7" width="6.2" height="1"/><rect x="634" y="7" width="6.2" height="1"/><rect x="632" y="7" width="1" height="1"/></g>
<use href="#sep" x="649" y="0"/>
<!-- vertical / horizontal / trend lines -->
<rect x="666" y="1" width="1" height="13" fill="#555"/>
<rect x="689" y="7" width="12" height="1" fill="#555"/>
<line x1="717" y1="14" x2="729.4" y2="2" stroke="#555" stroke-width="1"/>
<!-- channel -->
<g stroke="#4a4a4a" stroke-width="0.9" fill="none">
<line x1="742.8" y1="8.8" x2="755" y2="-0.2"/><line x1="746.8" y1="14" x2="757" y2="5.8"/>
<path d="M744.6 13 L746.4 6.6 L748.4 11.6 L750.2 4.2 L752.2 9.2 L754 1.2 L755.6 7.4" stroke-width="0.8"/>
</g>
<text x="753.6" y="16" font-size="7" font-weight="bold" fill="#333">E</text>
<!-- fibo -->
<g stroke="#444" stroke-width="1" stroke-dasharray="1 1" fill="none">
<line x1="772" y1="0.6" x2="785.4" y2="0.6"/><line x1="772" y1="3.4" x2="785.4" y2="3.4"/><line x1="772" y1="7.6" x2="785.4" y2="7.6"/><line x1="772" y1="11.6" x2="781.4" y2="11.6"/>
</g>
<text x="781.4" y="16" font-size="7" font-weight="bold" fill="#333">F</text>
<!-- text A -->
<text x="802.8" y="12.2" font-size="12.4" fill="#555" stroke="#555" stroke-width="0.25" transform="translate(802.8 0) scale(0.92 1) translate(-802.8 0)">A</text>
<!-- text label T -->
<rect x="829.6" y="1.8" width="11" height="12" fill="none" stroke="#555" stroke-width="1" stroke-dasharray="1 1"/>
<rect x="828.6" y="0" width="2.4" height="1.2" fill="#333"/>
<text x="830.6" y="12" font-size="11" fill="#555" stroke="#555" stroke-width="0.35">T</text>
<!-- arrows -->
<g fill="#474747"><polygon points="855.8,4 859.6,0.8 863.4,4 859.6,5.2"/><polygon points="863,10.6 870.2,10.6 866.6,14.3"/><polygon points="863,10.6 866.6,9 870.2,10.6"/></g>
<path d="M858.2 8.2 L860.4 10.6 L864.8 5.2" fill="none" stroke="#474747" stroke-width="1.3"/>
<use href="#dd" x="876.8" y="6"/>
<use href="#sep" x="888" y="0"/>
<use href="#grip" x="892" y="0"/>

<!-- timeframes -->
<rect x="1038" y="0" width="1" height="17" fill="#a0a0a0"/>
<rect x="1039" y="0" width="24.4" height="17" fill="url(#chk)"/>
<g font-size="9.9" fill="#3c3c3c" stroke="#3c3c3c" stroke-width="0.08" text-rendering="geometricPrecision">
<text transform="translate(903.6,11) scale(0.906,1)">M1</text>
<text transform="translate(931.6,11) scale(0.906,1)">M5</text>
<text transform="translate(957.6,11) scale(0.906,1)">M15</text>
<text transform="translate(985.2,11) scale(0.906,1)">M30</text>
<text transform="translate(1016.6,11) scale(0.906,1)">H1</text>
<text transform="translate(1043.4,11) scale(0.906,1)">H4</text>
<text transform="translate(1072.4,11) scale(0.906,1)">D1</text>
<text transform="translate(1100,11) scale(0.906,1)">W1</text>
<text transform="translate(1126.6,11) scale(0.906,1)">MN</text>
</g>
<use href="#sep" x="1149" y="0"/>

<!-- search -->
<line x1="1616.4" y1="8" x2="1612" y2="12" stroke="#2a5ccc" stroke-width="2.4"/>
<circle cx="1619.6" cy="4.6" r="3.8" fill="#fafcff" stroke="#2a5ccc" stroke-width="1.3"/>
<!-- chat bubble + badge -->
<path d="M1636.4 9 C1636.4 5.6 1639 4.2 1642 4.2 C1645.6 4.2 1647.6 6 1647.6 9 C1647.6 12 1645 13.2 1642.4 13.2 L1641 13.2 L1639.4 15.6 L1639.4 13 C1637.4 12.4 1636.4 11 1636.4 9 Z" fill="#e0e2ee" stroke="#a8a8a8" stroke-width="0.8"/>
<circle cx="1650.6" cy="5.2" r="8.2" fill="url(#gRed)"/>
<text x="1650" y="9" font-size="11.6" fill="#fff" stroke="#fff" stroke-width="0.35" text-anchor="middle" font-family="'Liberation Serif',serif">1</text>
</svg>

</body></html>
